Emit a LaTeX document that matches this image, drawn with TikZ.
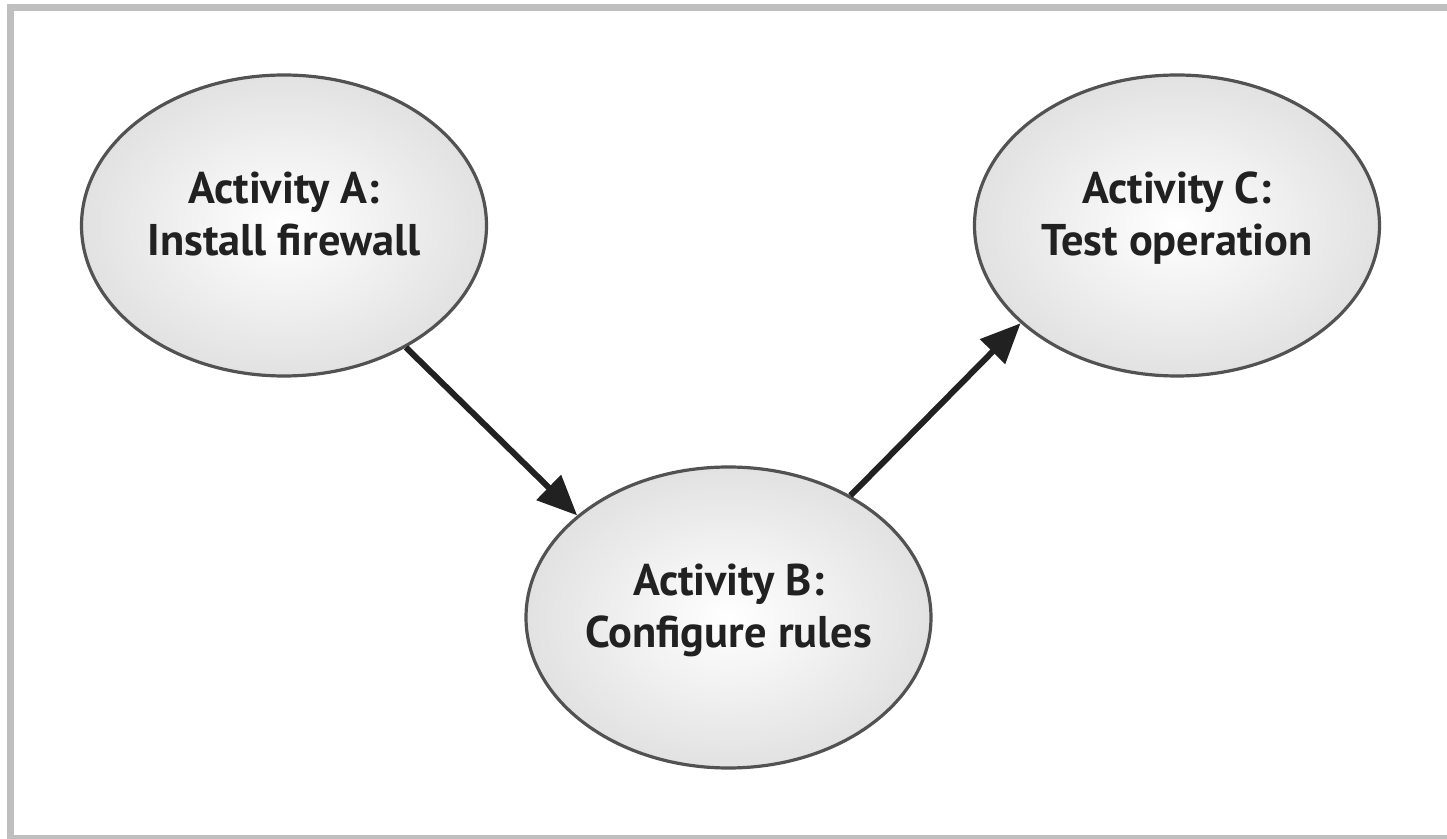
\documentclass[tikz,border=0pt]{standalone}
\usepackage{fontspec}
\setmainfont{PT Sans}
\usetikzlibrary{shapes.geometric, arrows.meta}

\pgfdeclareradialshading{actshade}{\pgfpoint{0bp}{0bp}}{%
  color(0bp)=(white); color(50bp)=(black!23); color(75bp)=(black!23)}

\tikzset{
  activity/.style={ellipse, draw=black!68, line width=1.6pt, shade, shading=actshade,
    minimum width=202.5pt, minimum height=150.5pt, inner sep=0pt},
  actlabel/.style={anchor=north, align=center, inner sep=0pt, text=black!87,
    font=\bfseries\fontsize{22.2}{26}\selectfont},
  flow/.style={-{Triangle[length=20pt, width=17pt]}, line width=3pt, draw=black!87}
}

\begin{document}
\begin{tikzpicture}[x=0.5pt, y=-0.5pt]
  \useasboundingbox (0, 0) rectangle (1447, 839);
  % grey frame, open on the right
  \fill[black!25] (7, 4) rectangle (1447, 11);
  \fill[black!25] (7, 4) rectangle (14, 839);
  \fill[black!25] (7, 835) rectangle (1447, 839);

  \node[activity] (A) at (284, 225.5) {};
  \node[activity] (B) at (728.5, 617.5) {};
  \node[activity] (C) at (1177, 225.5) {};

  \node[actlabel] (Atxt) at ([yshift=27pt]A.center) {Activity A:\\Install firewall};
  \node[actlabel] (Btxt) at ([yshift=27pt]B.center) {Activity B:\\Configure rules};
  \node[actlabel] (Ctxt) at ([yshift=27pt]C.center) {Activity C:\\Test operation};

  \draw[flow] (A.-45) -- (B.146);
  \draw[flow] (B.45) -- (C.212);
\end{tikzpicture}
\end{document}
